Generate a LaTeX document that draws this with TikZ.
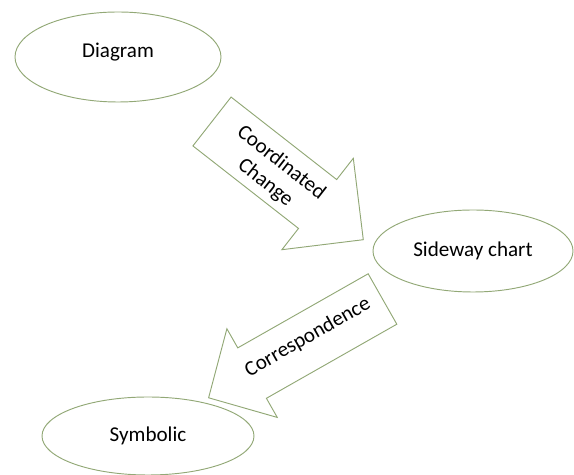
\documentclass[tikz,border=0pt]{standalone}
\usepackage{fontspec}
\setmainfont{Carlito}
\usetikzlibrary{shapes.geometric}
\definecolor{shapeline}{RGB}{146,168,118}
\begin{document}
\begin{tikzpicture}[x=0.03cm,y=0.03cm,
  bubble/.style={ellipse, draw=shapeline, line width=0.8pt, inner sep=0pt},
  blockarrow/.style={draw=shapeline, line width=0.8pt, line join=miter},
  lbl/.style={font=\fontsize{18}{22}\selectfont, inner sep=0pt}]
\useasboundingbox (0,0) rectangle (574,475);
\node[bubble, minimum width=6.18cm, minimum height=2.7cm, text depth=12pt, font=\fontsize{18}{22}\selectfont] (diagram) at (118,418){Diagram};
\node[bubble, minimum width=6.0cm, minimum height=2.46cm, font=\fontsize{18}{22}\selectfont] (sideway) at (473,224){Sideway chart};
\node[bubble, minimum width=6.36cm, minimum height=2.34cm, font=\fontsize{18}{22}\selectfont] (symbolic) at (148,39){Symbolic};
% Diagram -> Sideway chart
\begin{scope}[shift={(212,353.5)}, rotate=-38]
\draw[blockarrow] (0,-31) -- (134,-31) -- (134,-58) -- (192,0) -- (134,58) -- (134,31) -- (0,31) -- cycle;
\node[lbl, rotate=-38, align=center] (coordchange) at (80,-3){Coordinated\\Change};
\end{scope}
% Sideway chart -> Symbolic
\begin{scope}[shift={(382.5,176)}, rotate=209.6]
\draw[blockarrow] (0,-29) -- (150,-29) -- (150,-51) -- (200,0) -- (150,51) -- (150,29) -- (0,29) -- cycle;
\node[lbl, rotate=29.6] (correspond) at (84,-3.5){Correspondence};
\end{scope}
\end{tikzpicture}
\end{document}
